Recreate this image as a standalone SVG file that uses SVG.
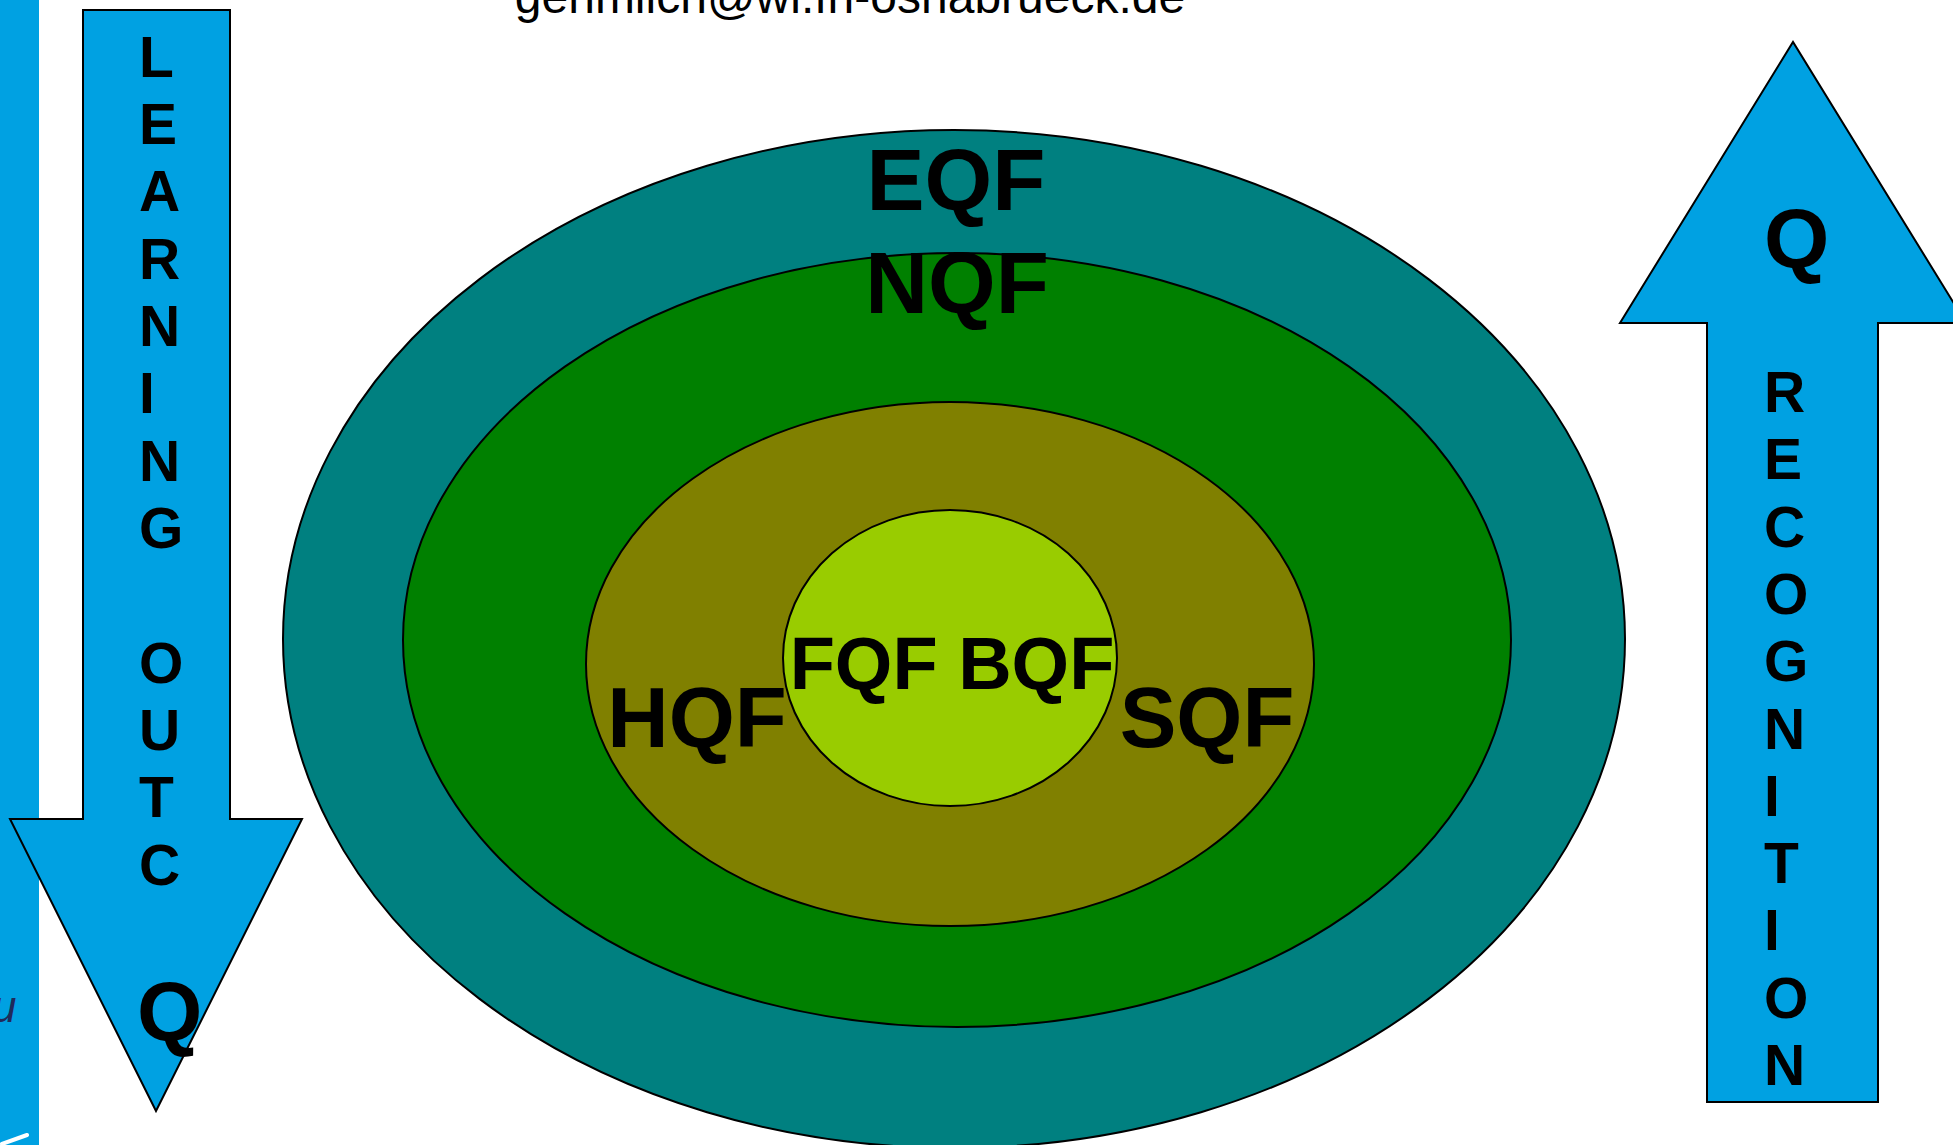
<svg xmlns="http://www.w3.org/2000/svg" width="1953" height="1145" viewBox="0 0 1953 1145">
  <style>
    .b { font-family: "Liberation Sans", Arial, sans-serif; font-weight: bold; fill: #000; }
    .v { font-size: 57px; }
    .big { font-size: 84px; }
    .ring { stroke: #000; stroke-width: 2; }
    .arrow { fill: #00A1E2; stroke: #000; stroke-width: 2; stroke-linejoin: miter; }
  </style>
  <rect width="1953" height="1145" fill="#fff"/>

  <g id="left-strip">
    <rect x="0" y="0" width="39" height="1145" fill="#00A1E2"/>
    <text x="-8" y="1022" font-family="Liberation Sans, Arial, sans-serif" font-style="italic" font-size="44" fill="#1F2A5A">u</text>
    <line x1="2" y1="1144" x2="27" y2="1135" stroke="#fff" stroke-width="4" stroke-linecap="round"/>
  </g>

  <g id="email">
    <text x="850" y="13" font-family="Liberation Sans, Arial, sans-serif" font-size="48" text-anchor="middle" fill="#000">gehmlich@wi.fh-osnabrueck.de</text>
  </g>

  <g id="EQF">
    <ellipse class="ring" cx="954" cy="639" rx="671" ry="509" fill="#008080"/>
    <text class="b" x="956" y="210" font-size="87" text-anchor="middle">EQF</text>
  </g>
  <g id="NQF">
    <ellipse class="ring" cx="957" cy="640" rx="554" ry="387" fill="#008000"/>
    <text class="b" x="957" y="313" font-size="87" text-anchor="middle">NQF</text>
  </g>
  <g id="HQF-SQF">
    <ellipse class="ring" cx="950" cy="664" rx="364" ry="262" fill="#808000"/>
    <text class="b" x="697" y="747" font-size="85" text-anchor="middle">HQF</text>
    <text class="b" x="1207" y="747" font-size="85" text-anchor="middle">SQF</text>
  </g>
  <g id="FQF-BQF">
    <ellipse class="ring" cx="950" cy="658" rx="167" ry="148" fill="#99CC00"/>
    <text class="b" x="952" y="689" font-size="74" text-anchor="middle">FQF BQF</text>
  </g>

  <g id="learning-outcomes-arrow">
    <polygon class="arrow" points="83,10 230,10 230,819 302,819 156,1111 10,819 83,819"/>
    <g class="b v">
      <text x="139" y="77">L</text>
      <text x="139" y="144">E</text>
      <text x="139" y="211">A</text>
      <text x="139" y="279">R</text>
      <text x="139" y="346">N</text>
      <text x="139" y="413">I</text>
      <text x="139" y="481">N</text>
      <text x="139" y="548">G</text>
      <text x="139" y="683">O</text>
      <text x="139" y="750">U</text>
      <text x="139" y="817">T</text>
      <text x="139" y="885">C</text>
    </g>
    <text class="b big" x="137" y="1041">Q</text>
  </g>

  <g id="recognition-arrow">
    <polygon class="arrow" points="1707,1102 1707,323 1620,323 1793,42 1966,323 1878,323 1878,1102"/>
    <text class="b big" x="1764" y="268">Q</text>
    <g class="b v">
      <text x="1764" y="412">R</text>
      <text x="1764" y="479">E</text>
      <text x="1764" y="547">C</text>
      <text x="1764" y="614">O</text>
      <text x="1764" y="681">G</text>
      <text x="1764" y="749">N</text>
      <text x="1764" y="816">I</text>
      <text x="1764" y="883">T</text>
      <text x="1764" y="950">I</text>
      <text x="1764" y="1018">O</text>
      <text x="1764" y="1085">N</text>
    </g>
  </g>

  <g id="connectors"/>
</svg>
